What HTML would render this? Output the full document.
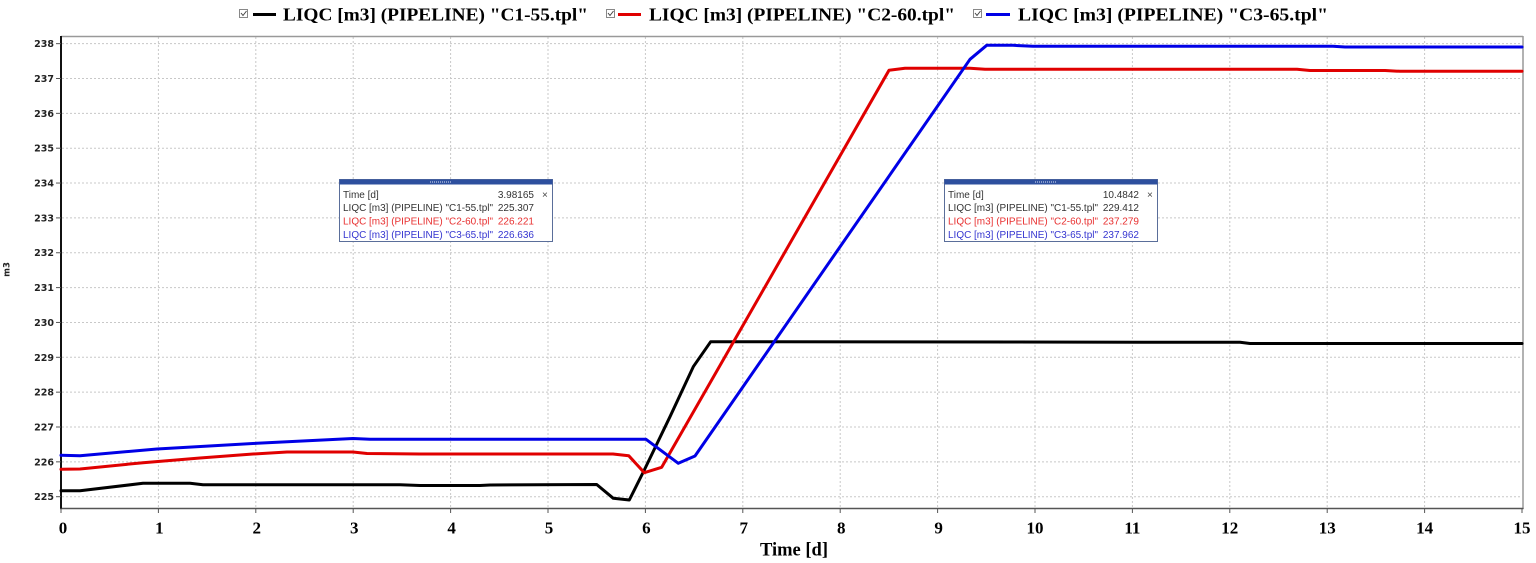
<!DOCTYPE html>
<html><head><meta charset="utf-8"><style>
html,body{margin:0;padding:0;background:#fff;}
svg{display:block;}
.lg{font-family:"Liberation Serif",serif;font-weight:bold;font-size:18px;fill:#000;}
.yt{font-family:"DejaVu Sans",sans-serif;font-weight:bold;font-size:9.5px;fill:#222;}
.xt{font-family:"Liberation Serif",serif;font-weight:bold;font-size:17px;fill:#000;}
.tt{font-family:"Liberation Sans",sans-serif;font-size:10px;}
</style></head><body>
<svg width="1536" height="563" viewBox="0 0 1536 563" xmlns="http://www.w3.org/2000/svg">
<rect width="1536" height="563" fill="#fff"/>
<!-- legend -->
<g>
  <rect x="239.5" y="9.5" width="8" height="8" fill="#fff" stroke="#888" stroke-width="1"/>
  <path d="M241,13 L243,15.5 L246.5,11" fill="none" stroke="#444" stroke-width="1"/>
  <line x1="253" y1="14.5" x2="276" y2="14.5" stroke="#000" stroke-width="3"/>
  <text class="lg" x="283" y="20.5" textLength="305" lengthAdjust="spacingAndGlyphs">LIQC [m3] (PIPELINE) "C1-55.tpl"</text>
  <rect x="606.5" y="9.5" width="8" height="8" fill="#fff" stroke="#888" stroke-width="1"/>
  <path d="M608,13 L610,15.5 L613.5,11" fill="none" stroke="#444" stroke-width="1"/>
  <line x1="618" y1="14.5" x2="641" y2="14.5" stroke="#e00000" stroke-width="3"/>
  <text class="lg" x="649" y="20.5" textLength="306" lengthAdjust="spacingAndGlyphs">LIQC [m3] (PIPELINE) "C2-60.tpl"</text>
  <rect x="973.5" y="9.5" width="8" height="8" fill="#fff" stroke="#888" stroke-width="1"/>
  <path d="M975,13 L977,15.5 L980.5,11" fill="none" stroke="#444" stroke-width="1"/>
  <line x1="986" y1="14.5" x2="1010" y2="14.5" stroke="#0000e6" stroke-width="3"/>
  <text class="lg" x="1018" y="20.5" textLength="310" lengthAdjust="spacingAndGlyphs">LIQC [m3] (PIPELINE) "C3-65.tpl"</text>
</g>
<!-- grid -->
<g stroke="#c8c8c8" stroke-width="1" stroke-dasharray="2,2">
  <line x1="158.4" y1="37" x2="158.4" y2="508"/>
  <line x1="255.8" y1="37" x2="255.8" y2="508"/>
  <line x1="353.2" y1="37" x2="353.2" y2="508"/>
  <line x1="450.6" y1="37" x2="450.6" y2="508"/>
  <line x1="548" y1="37" x2="548" y2="508"/>
  <line x1="645.4" y1="37" x2="645.4" y2="508"/>
  <line x1="742.8" y1="37" x2="742.8" y2="508"/>
  <line x1="840.2" y1="37" x2="840.2" y2="508"/>
  <line x1="937.6" y1="37" x2="937.6" y2="508"/>
  <line x1="1035" y1="37" x2="1035" y2="508"/>
  <line x1="1132.4" y1="37" x2="1132.4" y2="508"/>
  <line x1="1229.8" y1="37" x2="1229.8" y2="508"/>
  <line x1="1327.2" y1="37" x2="1327.2" y2="508"/>
  <line x1="1424.6" y1="37" x2="1424.6" y2="508"/>
  <line x1="62" y1="496.7" x2="1522" y2="496.7"/>
  <line x1="62" y1="461.85" x2="1522" y2="461.85"/>
  <line x1="62" y1="427" x2="1522" y2="427"/>
  <line x1="62" y1="392.15" x2="1522" y2="392.15"/>
  <line x1="62" y1="357.3" x2="1522" y2="357.3"/>
  <line x1="62" y1="322.45" x2="1522" y2="322.45"/>
  <line x1="62" y1="287.6" x2="1522" y2="287.6"/>
  <line x1="62" y1="252.75" x2="1522" y2="252.75"/>
  <line x1="62" y1="217.9" x2="1522" y2="217.9"/>
  <line x1="62" y1="183.05" x2="1522" y2="183.05"/>
  <line x1="62" y1="148.2" x2="1522" y2="148.2"/>
  <line x1="62" y1="113.35" x2="1522" y2="113.35"/>
  <line x1="62" y1="78.5" x2="1522" y2="78.5"/>
  <line x1="62" y1="43.65" x2="1522" y2="43.65"/>
</g>
<!-- frame -->
<line x1="61" y1="36.5" x2="1523" y2="36.5" stroke="#999" stroke-width="1.5"/>
<line x1="1523" y1="36" x2="1523" y2="509" stroke="#999" stroke-width="1.5"/>
<line x1="60" y1="508.5" x2="1523.5" y2="508.5" stroke="#555" stroke-width="1.5"/>
<line x1="61" y1="36" x2="61" y2="509" stroke="#111" stroke-width="2"/>
<!-- y ticks -->
<g stroke="#555" stroke-width="1">
  <line x1="56" y1="496.7" x2="61" y2="496.7"/><line x1="56" y1="461.85" x2="61" y2="461.85"/>
  <line x1="56" y1="427" x2="61" y2="427"/><line x1="56" y1="392.15" x2="61" y2="392.15"/>
  <line x1="56" y1="357.3" x2="61" y2="357.3"/><line x1="56" y1="322.45" x2="61" y2="322.45"/>
  <line x1="56" y1="287.6" x2="61" y2="287.6"/><line x1="56" y1="252.75" x2="61" y2="252.75"/>
  <line x1="56" y1="217.9" x2="61" y2="217.9"/><line x1="56" y1="183.05" x2="61" y2="183.05"/>
  <line x1="56" y1="148.2" x2="61" y2="148.2"/><line x1="56" y1="113.35" x2="61" y2="113.35"/>
  <line x1="56" y1="78.5" x2="61" y2="78.5"/><line x1="56" y1="43.65" x2="61" y2="43.65"/>
</g>
<g class="yt" text-anchor="end">
  <text x="54" y="500.2">225</text><text x="54" y="465.3">226</text><text x="54" y="430.5">227</text>
  <text x="54" y="395.6">228</text><text x="54" y="360.8">229</text><text x="54" y="325.9">230</text>
  <text x="54" y="291.1">231</text><text x="54" y="256.2">232</text><text x="54" y="221.4">233</text>
  <text x="54" y="186.5">234</text><text x="54" y="151.7">235</text><text x="54" y="116.8">236</text>
  <text x="54" y="82">237</text><text x="54" y="47.1">238</text>
</g>
<text transform="translate(9.5,269.5) rotate(-90)" text-anchor="middle" style="font-family:'DejaVu Sans',sans-serif;font-weight:bold;font-size:8.5px;fill:#222;">m3</text>
<!-- x ticks -->
<g stroke="#555" stroke-width="1">
  <line x1="61" y1="508" x2="61" y2="513"/><line x1="158.4" y1="508" x2="158.4" y2="513"/>
  <line x1="255.8" y1="508" x2="255.8" y2="513"/><line x1="353.2" y1="508" x2="353.2" y2="513"/>
  <line x1="450.6" y1="508" x2="450.6" y2="513"/><line x1="548" y1="508" x2="548" y2="513"/>
  <line x1="645.4" y1="508" x2="645.4" y2="513"/><line x1="742.8" y1="508" x2="742.8" y2="513"/>
  <line x1="840.2" y1="508" x2="840.2" y2="513"/><line x1="937.6" y1="508" x2="937.6" y2="513"/>
  <line x1="1035" y1="508" x2="1035" y2="513"/><line x1="1132.4" y1="508" x2="1132.4" y2="513"/>
  <line x1="1229.8" y1="508" x2="1229.8" y2="513"/><line x1="1327.2" y1="508" x2="1327.2" y2="513"/>
  <line x1="1424.6" y1="508" x2="1424.6" y2="513"/><line x1="1522" y1="508" x2="1522" y2="513"/>
</g>
<g class="xt" text-anchor="middle">
  <text x="63" y="533.5">0</text><text x="159.4" y="533.5">1</text><text x="256.8" y="533.5">2</text>
  <text x="354.2" y="533.5">3</text><text x="451.6" y="533.5">4</text><text x="549" y="533.5">5</text>
  <text x="646.4" y="533.5">6</text><text x="743.8" y="533.5">7</text><text x="841.2" y="533.5">8</text>
  <text x="938.6" y="533.5">9</text><text x="1035" y="533.5">10</text><text x="1132.4" y="533.5">11</text>
  <text x="1229.8" y="533.5">12</text><text x="1327.2" y="533.5">13</text><text x="1424.6" y="533.5">14</text>
  <text x="1522" y="533.5">15</text>
</g>
<text x="794" y="555.5" text-anchor="middle" style="font-family:'Liberation Serif',serif;font-weight:bold;font-size:18.5px;fill:#000;">Time [d]</text>
<!-- series -->
<g fill="none" stroke-width="3" stroke-linejoin="round" stroke-linecap="round">
  <path stroke="#000" d="M61,490.7 L80,490.7 L143,483.3 L190,483.3 L203,484.7 L400,484.7 L420,485.5 L480,485.5 L490,485 L596.7,484.5 L613.3,498.3 L629.3,500 L644.3,470 L670,416.7 L693.3,366.7 L710.7,341.7 L1240,342.3 L1250,343.5 L1522,343.5"/>
  <path stroke="#e00000" d="M61,469.3 L80,469 L143,462.7 L200,458 L253,454 L287,452 L353,452 L367,453.5 L420,454 L613,454 L628.7,455.7 L644.3,472.7 L661.7,467.3 L889,70.3 L905,68.3 L970,68.3 L985,69.3 L1297,69.3 L1310,70.5 L1385,70.5 L1400,71.3 L1522,71.3"/>
  <path stroke="#0000e6" d="M61,455.3 L80,455.7 L157,449 L257,443.3 L353,438.5 L370,439.3 L646,439.3 L678.3,463.3 L695,456 L970,59.3 L986.7,45.3 L1013,45.3 L1033,46.3 L1333,46.3 L1345,47 L1522,47"/>
</g>
<!-- tooltip 1 -->
<g>
  <rect x="339.5" y="179.5" width="213" height="62" fill="#fff" stroke="#5a6e9a" stroke-width="1"/>
  <rect x="339.5" y="179.5" width="213" height="5" fill="#2d4f9e"/>
  <line x1="430" y1="182" x2="451" y2="182" stroke="#dfe6f5" stroke-width="1" stroke-dasharray="1,1"/>
  <g class="tt">
    <text x="343" y="197.8" fill="#333">Time [d]</text>
    <text x="534" y="197.8" fill="#333" text-anchor="end">3.98165</text>
    <text x="542" y="197.8" fill="#444">×</text>
    <text x="343" y="211.2" fill="#333" textLength="150" lengthAdjust="spacingAndGlyphs">LIQC [m3] (PIPELINE) "C1-55.tpl"</text>
    <text x="534" y="211.2" fill="#333" text-anchor="end">225.307</text>
    <text x="343" y="224.5" fill="#e83030" textLength="150" lengthAdjust="spacingAndGlyphs">LIQC [m3] (PIPELINE) "C2-60.tpl"</text>
    <text x="534" y="224.5" fill="#e83030" text-anchor="end">226.221</text>
    <text x="343" y="237.8" fill="#3535d0" textLength="150" lengthAdjust="spacingAndGlyphs">LIQC [m3] (PIPELINE) "C3-65.tpl"</text>
    <text x="534" y="237.8" fill="#3535d0" text-anchor="end">226.636</text>
  </g>
</g>
<!-- tooltip 2 -->
<g>
  <rect x="944.5" y="179.5" width="213" height="62" fill="#fff" stroke="#5a6e9a" stroke-width="1"/>
  <rect x="944.5" y="179.5" width="213" height="5" fill="#2d4f9e"/>
  <line x1="1035" y1="182" x2="1056" y2="182" stroke="#dfe6f5" stroke-width="1" stroke-dasharray="1,1"/>
  <g class="tt">
    <text x="948" y="197.8" fill="#333">Time [d]</text>
    <text x="1139" y="197.8" fill="#333" text-anchor="end">10.4842</text>
    <text x="1147" y="197.8" fill="#444">×</text>
    <text x="948" y="211.2" fill="#333" textLength="150" lengthAdjust="spacingAndGlyphs">LIQC [m3] (PIPELINE) "C1-55.tpl"</text>
    <text x="1139" y="211.2" fill="#333" text-anchor="end">229.412</text>
    <text x="948" y="224.5" fill="#e83030" textLength="150" lengthAdjust="spacingAndGlyphs">LIQC [m3] (PIPELINE) "C2-60.tpl"</text>
    <text x="1139" y="224.5" fill="#e83030" text-anchor="end">237.279</text>
    <text x="948" y="237.8" fill="#3535d0" textLength="150" lengthAdjust="spacingAndGlyphs">LIQC [m3] (PIPELINE) "C3-65.tpl"</text>
    <text x="1139" y="237.8" fill="#3535d0" text-anchor="end">237.962</text>
  </g>
</g>
</svg>
</body></html>
